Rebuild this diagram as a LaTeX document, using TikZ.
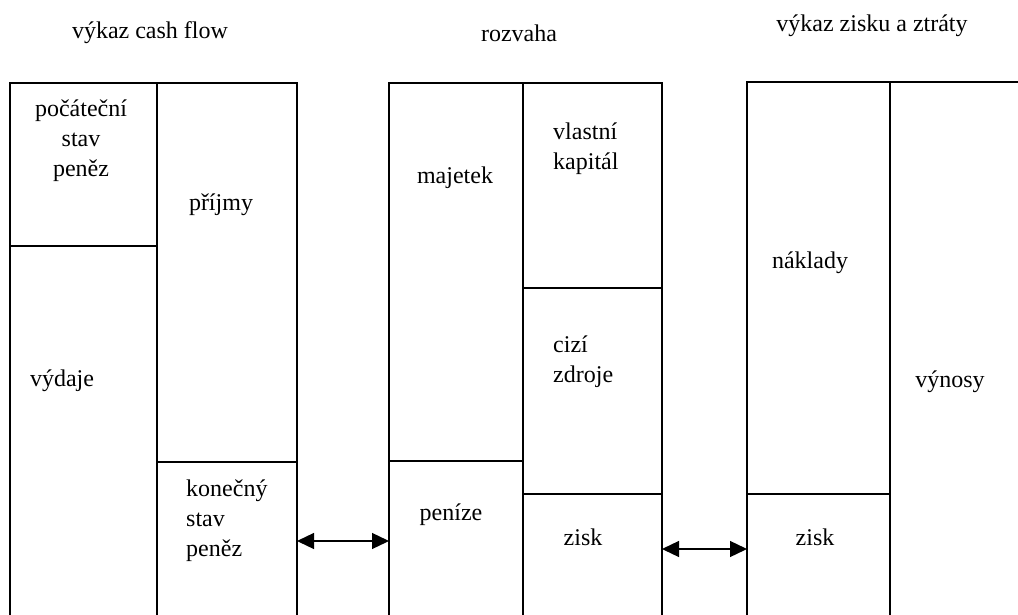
\documentclass[tikz,border=0pt]{standalone}
\usepackage{fontspec}
\setmainfont{Liberation Serif}
\usetikzlibrary{arrows.meta}

\tikzset{
  cell/.style={draw, line width=1.3pt, inner sep=0pt, outer sep=0pt, anchor=north west},
  txt/.style={font=\fontsize{24}{30}\selectfont, inner sep=0pt}
}

\begin{document}
\begin{tikzpicture}
    [x=1pt, y=-1pt, >={Triangle[length=17pt, width=16pt]}]

    \useasboundingbox (0,0) rectangle (1018,615);
    \clip (0,0) rectangle (1018,615);

    \node[txt] (TCF) at (150,33) {výkaz cash flow};
    \node[txt] (TR) at (519,33) {rozvaha};
    \node[txt] (TZZ) at (872,26) {výkaz zisku a ztráty};

    % vykaz cash flow
    \node[cell, minimum width=147pt, minimum height=163pt] (PS) at (10,83) {};
    \node[cell, minimum width=147pt, minimum height=380pt] (V) at (PS.south west) {};
    \node[cell, minimum width=140pt, minimum height=379pt] (P) at (PS.north east) {};
    \node[cell, minimum width=140pt, minimum height=164pt] (KS) at (P.south west) {};

    \node[txt, align=center] (lPS) at (81,141) {počáteční\\stav\\peněz};
    \node[txt] (lP) at (221,205) {příjmy};
    \node[txt] (lV) at (62,381) {výdaje};
    \node[txt, align=left, anchor=west] (lKS) at (186,521) {konečný\\stav\\peněz};

    % rozvaha
    \node[cell, minimum width=134pt, minimum height=378pt] (M) at (389,83) {};
    \node[cell, minimum width=134pt, minimum height=165pt] (Pe) at (M.south west) {};
    \node[cell, minimum width=139pt, minimum height=205pt] (VK) at (M.north east) {};
    \node[cell, minimum width=139pt, minimum height=206pt] (CZ) at (VK.south west) {};
    \node[cell, minimum width=139pt, minimum height=132pt] (Z1) at (CZ.south west) {};

    \node[txt] (lM) at (455,178) {majetek};
    \node[txt] (lPe) at (451,515) {peníze};
    \node[txt, align=left, anchor=west] (lVK) at (553,149) {vlastní\\kapitál};
    \node[txt, align=left, anchor=west] (lCZ) at (553,362) {cizí\\zdroje};
    \node[txt] (lZ1) at (583,537) {zisk};

    % vykaz zisku a ztraty
    \node[cell, minimum width=143pt, minimum height=412pt] (N) at (747,82) {};
    \node[cell, minimum width=143pt, minimum height=132pt] (Z2) at (N.south west) {};
    \node[cell, minimum width=150pt, minimum height=544pt] (VY) at (N.north east) {};

    \node[txt] (lN) at (810,263) {náklady};
    \node[txt] (lZ2) at (815,537) {zisk};
    \node[txt] (lVY) at (950,382) {výnosy};

    \draw[<->, line width=1.3pt] ([yshift=3pt]KS.east) -- ([yshift=3pt]KS.east -| Pe.west);
    \draw[<->, line width=1.3pt] ([yshift=11pt]Z1.east) -- ([yshift=11pt]Z1.east -| Z2.west);
\end{tikzpicture}
\end{document}
